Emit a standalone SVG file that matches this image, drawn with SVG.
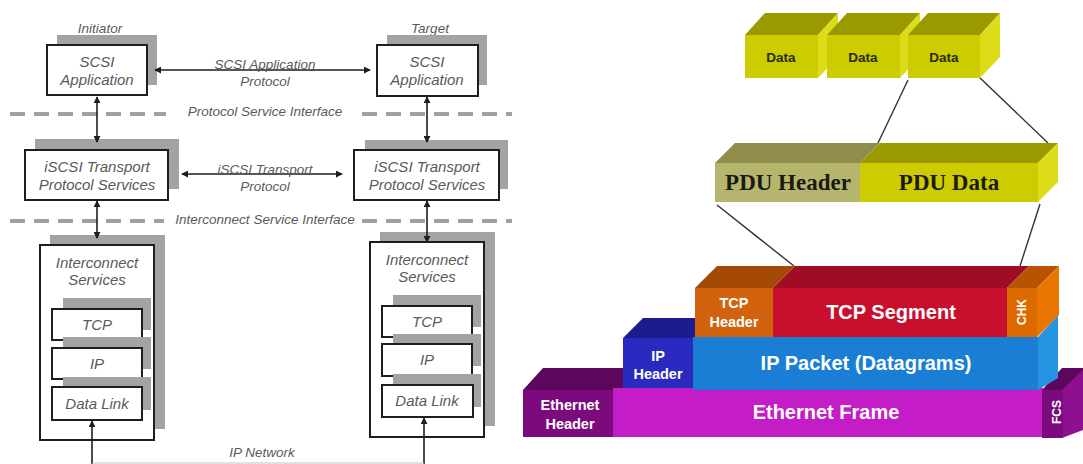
<svg xmlns="http://www.w3.org/2000/svg" width="1083" height="464" viewBox="0 0 1083 464">
<style>
.sh{fill:#a3a3a3}
.bx{fill:#fff;stroke:#1e1e1e;stroke-width:2}
.t{font-family:"Liberation Sans",Arial,sans-serif;font-style:italic;fill:#5a5a5a;text-anchor:middle}
.bt{font-size:15px}
.lt{font-size:13.5px}
.dash{stroke:#a0a0a0;stroke-width:4;stroke-dasharray:15 9;fill:none}
.con{stroke:#1e1e1e;stroke-width:1.6;fill:none}
.w{font-family:"Liberation Sans",Arial,sans-serif;font-weight:bold;fill:#fff;text-anchor:middle}
.d{font-family:"Liberation Sans",Arial,sans-serif;font-weight:bold;fill:#2a2a10;text-anchor:middle;font-size:13.5px}
.p{font-family:"Liberation Serif","Times New Roman",serif;font-weight:bold;fill:#1a1a10;text-anchor:middle;font-size:23px}
.ln{stroke:#333;stroke-width:1.4;fill:none}
.yf{fill:#cccc00}.yt{fill:#9a9a00}.yr{fill:#dcdc18}
</style>
<defs>
<marker id="ah" viewBox="0 0 8 8" refX="7" refY="4" markerWidth="7" markerHeight="7" orient="auto-start-reverse" markerUnits="userSpaceOnUse">
<path d="M0,0 L8,4 L0,8 z" fill="#1e1e1e"/>
</marker>
</defs>

<!-- interface dashed lines -->
<g id="interfaces">
<line class="dash" x1="10" y1="114" x2="166" y2="114"/>
<line class="dash" x1="362" y1="114" x2="512" y2="114"/>
<line class="dash" x1="10" y1="221" x2="164" y2="221"/>
<line class="dash" x1="362" y1="221" x2="512" y2="221"/>
<text class="t lt" x="265" y="116">Protocol Service Interface</text>
<text class="t lt" x="265" y="224">Interconnect Service Interface</text>
</g>

<!-- left stack -->
<g id="scsi-app-initiator">
<text class="t lt" x="100" y="33">Initiator</text>
<rect class="sh" x="57" y="35" width="100" height="50"/>
<rect class="bx" x="47" y="45" width="100" height="50"/>
<text class="t bt" x="97" y="67">SCSI</text>
<text class="t bt" x="97" y="85">Application</text>
</g>
<g id="iscsi-initiator">
<rect class="sh" x="35" y="139" width="144" height="50"/>
<rect class="bx" x="25" y="150" width="143" height="50"/>
<text class="t bt" x="97" y="172">iSCSI Transport</text>
<text class="t bt" x="97" y="190">Protocol Services</text>
</g>
<g id="interconnect-initiator">
<rect class="sh" x="50" y="235" width="115" height="194"/>
<rect class="bx" x="40" y="245" width="114" height="195"/>
<text class="t bt" x="97" y="268">Interconnect</text>
<text class="t bt" x="97" y="285">Services</text>
</g>
<g id="tcp-initiator">
<rect class="sh" x="63" y="298" width="88" height="32"/>
<rect class="bx" x="52" y="309" width="90" height="31"/>
<text class="t bt" x="97" y="330">TCP</text>
</g>
<g id="ip-initiator">
<rect class="sh" x="63" y="337" width="88" height="32"/>
<rect class="bx" x="52" y="348" width="90" height="31"/>
<text class="t bt" x="97" y="369">IP</text>
</g>
<g id="datalink-initiator">
<rect class="sh" x="63" y="377" width="88" height="33"/>
<rect class="bx" x="52" y="387" width="90" height="33"/>
<text class="t bt" x="97" y="409">Data Link</text>
</g>

<!-- right stack -->
<g id="scsi-app-target">
<text class="t lt" x="430" y="33">Target</text>
<rect class="sh" x="387" y="35" width="100" height="50"/>
<rect class="bx" x="377" y="45" width="101" height="51"/>
<text class="t bt" x="427" y="67">SCSI</text>
<text class="t bt" x="427" y="85">Application</text>
</g>
<g id="iscsi-target">
<rect class="sh" x="365" y="140" width="143" height="49"/>
<rect class="bx" x="354" y="150" width="145" height="50"/>
<text class="t bt" x="427" y="172">iSCSI Transport</text>
<text class="t bt" x="427" y="190">Protocol Services</text>
</g>
<g id="interconnect-target">
<rect class="sh" x="380" y="232" width="115" height="194"/>
<rect class="bx" x="370" y="242" width="114" height="195"/>
<text class="t bt" x="427" y="265">Interconnect</text>
<text class="t bt" x="427" y="282">Services</text>
</g>
<g id="tcp-target">
<rect class="sh" x="393" y="295" width="88" height="32"/>
<rect class="bx" x="382" y="306" width="90" height="31"/>
<text class="t bt" x="427" y="327">TCP</text>
</g>
<g id="ip-target">
<rect class="sh" x="393" y="334" width="88" height="32"/>
<rect class="bx" x="382" y="344" width="90" height="32"/>
<text class="t bt" x="427" y="365">IP</text>
</g>
<g id="datalink-target">
<rect class="sh" x="393" y="374" width="88" height="33"/>
<rect class="bx" x="382" y="385" width="91" height="32"/>
<text class="t bt" x="427" y="406">Data Link</text>
</g>

<!-- connectors -->
<g id="connectors">
<line class="con" x1="155" y1="70" x2="370" y2="70" marker-start="url(#ah)" marker-end="url(#ah)"/>
<line class="con" x1="182" y1="174" x2="342" y2="174" marker-start="url(#ah)" marker-end="url(#ah)"/>
<line class="con" x1="97" y1="97" x2="97" y2="142" marker-start="url(#ah)" marker-end="url(#ah)"/>
<line class="con" x1="427" y1="97" x2="427" y2="142" marker-start="url(#ah)" marker-end="url(#ah)"/>
<line class="con" x1="97" y1="201" x2="97" y2="238" marker-start="url(#ah)" marker-end="url(#ah)"/>
<line class="con" x1="427" y1="201" x2="427" y2="242" marker-start="url(#ah)" marker-end="url(#ah)"/>
<line class="con" x1="92" y1="421" x2="92" y2="464" marker-start="url(#ah)"/>
<line class="con" x1="424" y1="418" x2="424" y2="464" marker-start="url(#ah)"/>
<line x1="92" y1="463" x2="424" y2="463" stroke="#c4c4c4" stroke-width="1.2"/>
<text class="t lt" x="262" y="457">IP Network</text>
<text class="t lt" x="265" y="69">SCSI Application</text>
<text class="t lt" x="265" y="86">Protocol</text>
<text class="t lt" x="265" y="174">iSCSI Transport</text>
<text class="t lt" x="265" y="191">Protocol</text>
</g>

<!-- right diagram: encapsulation -->
<g id="encap-lines">
<line class="ln" x1="908" y1="80" x2="878" y2="143"/>
<line class="ln" x1="978" y1="76" x2="1048" y2="143"/>
<line class="ln" x1="717" y1="205" x2="794" y2="266"/>
<line class="ln" x1="1040" y1="204" x2="1020" y2="266"/>
</g>

<g id="data-1">
<polygon class="yt" points="745,35 765,13 838,13 818,35"/>
<polygon class="yr" points="818,35 838,13 838,57 818,78"/>
<rect class="yf" x="745" y="35" width="73" height="43"/>
<text class="d" x="781" y="62">Data</text>
</g>
<g id="data-2">
<polygon class="yt" points="827,35 847,13 920,13 900,35"/>
<polygon class="yr" points="900,35 920,13 920,57 900,78"/>
<rect class="yf" x="827" y="35" width="73" height="43"/>
<text class="d" x="863" y="62">Data</text>
</g>
<g id="data-3">
<polygon class="yt" points="908,35 928,13 1000,13 980,35"/>
<polygon class="yr" points="980,35 1000,13 1000,57 980,78"/>
<rect class="yf" x="908" y="35" width="72" height="43"/>
<text class="d" x="944" y="62">Data</text>
</g>

<g id="pdu">
<polygon fill="#8e8e4a" points="715,163 735,143 880,143 860,163"/>
<polygon class="yt" points="860,163 880,143 1058,143 1038,163"/>
<polygon class="yr" points="1038,163 1058,143 1058,182 1038,202"/>
<rect fill="#b5b56e" x="715" y="163" width="145" height="39"/>
<rect class="yf" x="860" y="163" width="178" height="39"/>
<text class="p" x="788" y="190">PDU Header</text>
<text class="p" x="949" y="190">PDU Data</text>
</g>

<g id="ethernet">
<polygon fill="#5c075e" points="523,390 543,368 625,368 625,390"/>
<rect fill="#7b0b7d" x="523" y="390" width="91" height="47"/>
<rect fill="#c41cc6" x="613" y="388" width="430" height="49"/>
<polygon fill="#5c075e" points="1042,390 1062,368 1083,368 1083,372 1063,390"/>
<polygon fill="#8e1090" points="1062,390 1083,370 1083,430 1062,438"/>
<rect fill="#7b0b7d" x="1042" y="390" width="21" height="48"/>
<text class="w" font-size="14.5" x="570" y="410">Ethernet</text>
<text class="w" font-size="14.5" x="570" y="429">Header</text>
<text class="w" font-size="20" x="826" y="419">Ethernet Frame</text>
<text class="w" font-size="12" transform="translate(1057,412) rotate(-90)" y="4">FCS</text>
</g>

<g id="ip">
<polygon fill="#1c1c8e" points="623,338 643,318 696,318 696,338"/>
<rect fill="#2a2ac0" x="623" y="338" width="71" height="50"/>
<polygon fill="#2494e2" points="1038,337 1058,315 1058,378 1038,390"/>
<rect fill="#1a7fd4" x="693" y="337" width="345" height="53"/>
<text class="w" font-size="14.5" x="658" y="361">IP</text>
<text class="w" font-size="14.5" x="658" y="379">Header</text>
<text class="w" font-size="20" x="866" y="370">IP Packet (Datagrams)</text>
</g>

<g id="tcp">
<polygon fill="#a44a06" points="695,288 717,266 795,266 773,288"/>
<polygon fill="#a00b26" points="773,288 795,266 1029,266 1007,288"/>
<polygon fill="#b85400" points="1007,288 1029,266 1059,266 1037,288"/>
<polygon fill="#e87600" points="1037,288 1059,266 1059,315 1037,337"/>
<rect fill="#d2620e" x="695" y="288" width="78" height="49"/>
<rect fill="#c8102e" x="773" y="288" width="234" height="49"/>
<rect fill="#dd6a00" x="1007" y="288" width="30" height="49"/>
<text class="w" font-size="14.5" x="734" y="308">TCP</text>
<text class="w" font-size="14.5" x="734" y="327">Header</text>
<text class="w" font-size="20" x="891" y="319">TCP Segment</text>
<text class="w" font-size="12" transform="translate(1022,312) rotate(-90)" y="4">CHK</text>
</g>
</svg>
